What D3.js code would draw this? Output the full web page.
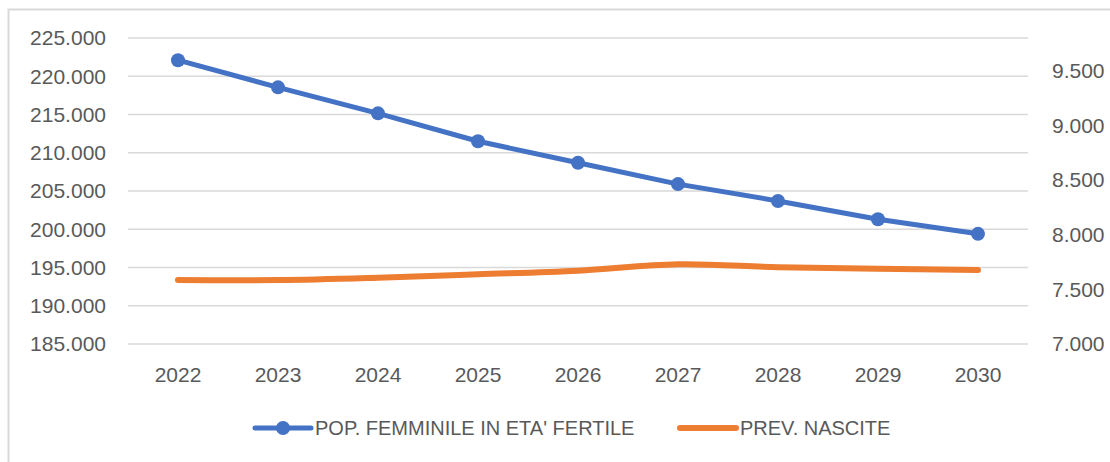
<!DOCTYPE html>
<html>
<head>
<meta charset="utf-8">
<script src="https://cdn.jsdelivr.net/npm/d3@7"></script>
<style>
  html, body { margin: 0; padding: 0; background: #fff; overflow: hidden; }
  svg { display: block; }
</style>
</head>
<body>
<div id="chart"></div>
<script>
// Data
const years = ['2022', '2023', '2024', '2025', '2026', '2027', '2028', '2029', '2030']
const popFemminile = [222100, 218550, 215150, 211500, 208700, 205900, 203700, 201300, 199400]
const prevNascite = [7585, 7585, 7607, 7638, 7671, 7729, 7702, 7689, 7677]
const leftTicks = [185000, 190000, 195000, 200000, 205000, 210000, 215000, 220000, 225000]
const rightTicks = [7000, 7500, 8000, 8500, 9000, 9500]
const legendLabels = ["POP. FEMMINILE IN ETA' FERTILE", 'PREV. NASCITE']

const W = 1110, H = 462
const BLUE = '#4472C4', ORANGE = '#ED7D31', GRID = '#D9D9D9', TXT = '#595959'
const FONT = '"Liberation Sans", Arial, sans-serif'

const it = d3.formatLocale({ decimal: ',', thousands: '.', grouping: [3], currency: ['', ' €'] })
const fmt = it.format(',')

const svg = d3.select('#chart').append('svg')
  .attr('width', W).attr('height', H)

// chart area border (extends off the right/bottom edge)
svg.append('rect')
  .attr('x', 8.5).attr('y', 9.5)
  .attr('width', W + 20).attr('height', H + 20)
  .attr('fill', '#fff')
  .attr('stroke', GRID).attr('stroke-width', 2)

const x = d3.scaleBand().domain(years).range([128, 1028])
const cx = d => x(d) + x.bandwidth() / 2
const yL = d3.scaleLinear().domain([185000, 225000]).range([344, 38])
const yR = d3.scaleLinear().domain([7000, 9800]).range([344, 38])

// gridlines
svg.append('g')
  .selectAll('line').data(leftTicks).join('line')
  .attr('x1', 128).attr('x2', 1028)
  .attr('y1', d => yL(d)).attr('y2', d => yL(d))
  .attr('stroke', GRID).attr('stroke-width', 1.5)

// left axis labels
svg.append('g')
  .selectAll('text').data(leftTicks).join('text')
  .attr('x', 106).attr('y', d => yL(d))
  .attr('dy', '0.35em')
  .attr('text-anchor', 'end')
  .style('font-family', FONT).style('font-size', '21px').style('fill', TXT)
  .text(d => fmt(d))

// right axis labels
svg.append('g')
  .selectAll('text').data(rightTicks).join('text')
  .attr('x', 1052).attr('y', d => yR(d))
  .attr('dy', '0.35em')
  .attr('text-anchor', 'start')
  .style('font-family', FONT).style('font-size', '21px').style('fill', TXT)
  .text(d => fmt(d))

// year labels
svg.append('g')
  .selectAll('text').data(years).join('text')
  .attr('x', d => cx(d)).attr('y', 375)
  .attr('dy', '0.35em')
  .attr('text-anchor', 'middle')
  .style('font-family', FONT).style('font-size', '21px').style('fill', TXT)
  .text(d => d)

// orange series (right axis, smoothed)
const lineR = d3.line()
  .x((d, i) => cx(years[i]))
  .y(d => yR(d))
  .curve(d3.curveCatmullRom.alpha(0.5))

svg.append('path')
  .datum(prevNascite)
  .attr('d', lineR)
  .attr('fill', 'none')
  .attr('stroke', ORANGE).attr('stroke-width', 6)
  .attr('stroke-linecap', 'round').attr('stroke-linejoin', 'round')

// blue series (left axis)
const lineL = d3.line()
  .x((d, i) => cx(years[i]))
  .y(d => yL(d))

svg.append('path')
  .datum(popFemminile)
  .attr('d', lineL)
  .attr('fill', 'none')
  .attr('stroke', BLUE).attr('stroke-width', 5)
  .attr('stroke-linejoin', 'round')

svg.append('g')
  .selectAll('circle').data(popFemminile).join('circle')
  .attr('cx', (d, i) => cx(years[i])).attr('cy', d => yL(d))
  .attr('r', 7)
  .attr('fill', BLUE)

// legend
const leg = svg.append('g')
const legItems = [
  { label: legendLabels[0], color: BLUE, x0: 255, marker: true },
  { label: legendLabels[1], color: ORANGE, x0: 680, marker: false }
]
legItems.forEach(item => {
  leg.append('line')
    .attr('x1', item.x0).attr('x2', item.x0 + 56)
    .attr('y1', 428).attr('y2', 428)
    .attr('stroke', item.color).attr('stroke-width', item.marker ? 5 : 6)
    .attr('stroke-linecap', 'round')
  if (item.marker) {
    leg.append('circle')
      .attr('cx', item.x0 + 28).attr('cy', 428).attr('r', 7)
      .attr('fill', item.color)
  }
  leg.append('text')
    .attr('x', item.x0 + 60).attr('y', 428)
    .attr('dy', '0.35em')
    .style('font-family', FONT).style('font-size', '20px').style('fill', TXT)
    .text(item.label)
})
</script>
</body>
</html>
